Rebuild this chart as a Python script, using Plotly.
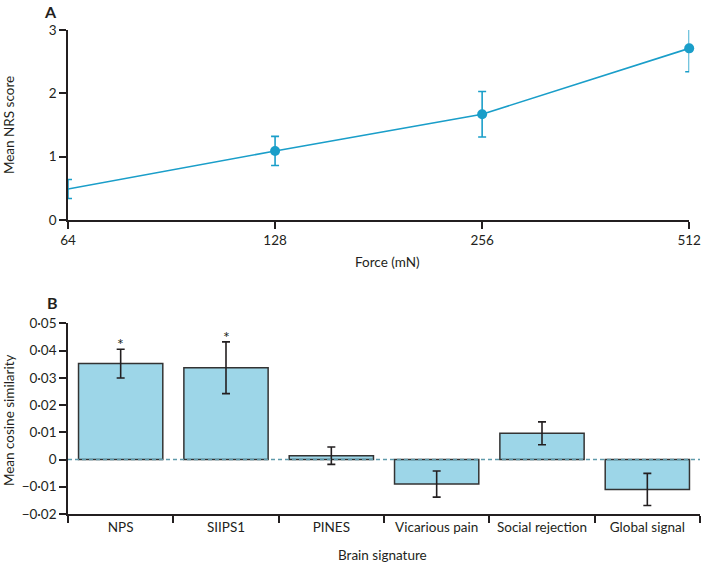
import math
import plotly.graph_objects as go

# Panel A data
force = [64, 128, 256, 512]
nrs_mean = [0.49, 1.09, 1.67, 2.71]
nrs_err = [0.15, 0.23, 0.36, 0.37]
force_ticks = [64, 128, 256, 512]
nrs_ticks = [0, 1, 2, 3]

# Panel B data
signatures = ["NPS", "SIIPS1", "PINES", "Vicarious pain", "Social rejection", "Global signal"]
cos_mean = [0.0352, 0.0337, 0.0014, -0.0090, 0.0096, -0.0110]
cos_err = [0.0053, 0.0095, 0.0032, 0.0048, 0.0042, 0.0059]
sig_marks = ["*", "*", "", "", "", ""]
b_tickvals = [0.05, 0.04, 0.03, 0.02, 0.01, 0, -0.01, -0.02]
b_ticktext = ["0·05", "0·04", "0·03", "0·02", "0·01", "0", "−0·01", "−0·02"]

FONT = "Lato"
FS = 13.5
INK = "#231f20"
BLUE = "#1a9ec9"
BARFILL = "#9dd6e8"

fig = go.Figure()

fig.add_trace(go.Scatter(
    x=force, y=nrs_mean, mode="lines+markers",
    line=dict(color=BLUE, width=1.6),
    marker=dict(color=BLUE, size=10),
    error_y=dict(type="data", array=nrs_err, color=BLUE, thickness=1.6, width=4),
    xaxis="x", yaxis="y", cliponaxis=False, showlegend=False,
))

fig.add_trace(go.Bar(
    x=signatures, y=cos_mean, width=0.8,
    marker=dict(color=BARFILL, line=dict(color="#333333", width=1.5)),
    error_y=dict(type="data", array=cos_err, color=INK, thickness=1.6, width=4),
    xaxis="x2", yaxis="y2", cliponaxis=False, showlegend=False,
))

W, H = 713, 564
ml, mr, mt, mb = 68, 1, 30, 50
pw = W - ml - mr
ph = H - mt - mb

def ydom(top_px, bot_px):
    return [(H - mb - bot_px) / ph, (H - mb - top_px) / ph]

axis_common = dict(showline=True, linecolor=INK, linewidth=1.5, ticks="outside",
                   tickcolor=INK, tickwidth=1.5, ticklen=7, showgrid=False, zeroline=False,
                   tickfont=dict(family=FONT, size=FS, color=INK))

fig.update_layout(
    width=W, height=H,
    margin=dict(l=ml, r=mr, t=mt, b=mb),
    paper_bgcolor="white", plot_bgcolor="white",
    font=dict(family=FONT, size=FS, color=INK),
    xaxis=dict(axis_common, type="log", domain=[0, (701 - ml) / pw],
               range=[math.log10(64), math.log10(512)],
               tickvals=force_ticks, ticktext=[str(v) for v in force_ticks], anchor="y"),
    yaxis=dict(axis_common, domain=ydom(30, 220), range=[0, 3], tickvals=nrs_ticks,
               anchor="x"),
    xaxis2=dict(axis_common, domain=[0, 1], range=[-0.5, 5.5], tickson="boundaries",
                anchor="y2"),
    yaxis2=dict(axis_common, domain=ydom(323.3, 514), range=[-0.02, 0.05],
                tickvals=b_tickvals, ticktext=b_ticktext, anchor="x2"),
)

fig.add_shape(type="line", xref="x2 domain", yref="y2", x0=0, x1=1, y0=0, y1=0,
              line=dict(color="#5f9aab", width=1.5, dash="4px,3px"), layer="above")

for i, s in enumerate(sig_marks):
    if s:
        fig.add_annotation(x=signatures[i], y=cos_mean[i] + cos_err[i], xref="x2", yref="y2",
                           text=s, showarrow=False, yanchor="bottom", yshift=-6,
                           font=dict(family=FONT, size=16, color=INK))

def px_ann(text, xpx, ypx, size=FS, bold=False, angle=0, yanchor="middle"):
    fig.add_annotation(x=(xpx - ml) / pw, y=(H - mb - ypx) / ph, xref="paper", yref="paper",
                       text=f"<b>{text}</b>" if bold else text, showarrow=False,
                       xanchor="center", yanchor=yanchor, textangle=angle,
                       font=dict(family=FONT, size=size, color=INK))

px_ann("A", 50, 0, size=16, bold=True, yanchor="top")
px_ann("B", 52, 302, size=16, bold=True)
px_ann("Mean NRS score", 8, 125, angle=-90)
px_ann("Force (mN)", 394, 262)
px_ann("Mean cosine similarity", 8, 420, angle=-90)
px_ann("Brain signature", 388, 555)

fig.write_html("out.html", config={"displayModeBar": False},
               post_script="document.body.style.margin='0';document.body.style.overflow='hidden';")
